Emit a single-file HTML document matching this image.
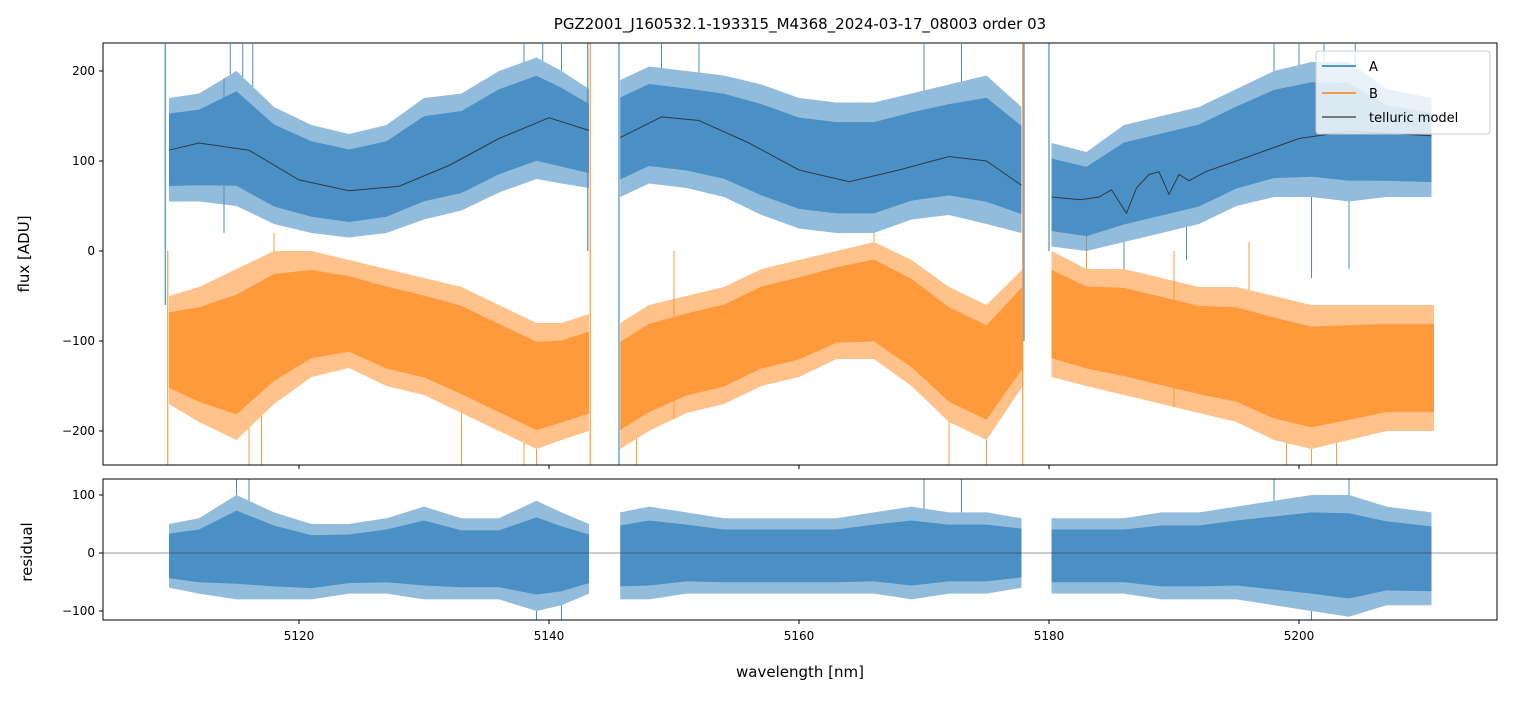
<!DOCTYPE html>
<html><head><meta charset="utf-8"><style>
body{margin:0;background:#fff;}
svg text{font-family:"DejaVu Sans","Liberation Sans",sans-serif;fill:#000;}
</style></head><body>
<svg id="chart" width="1513" height="696" xmlns="http://www.w3.org/2000/svg">
<text x="800" y="29" font-size="15" text-anchor="middle">PGZ2001_J160532.1-193315_M4368_2024-03-17_08003  order 03</text>
<g id="topPanel"></g>
<g id="botPanel"></g>
<text x="800" y="677" font-size="15" text-anchor="middle">wavelength [nm]</text>
<text transform="translate(29,254) rotate(-90)" font-size="15" text-anchor="middle">flux [ADU]</text>
<text transform="translate(32,552) rotate(-90)" font-size="15" text-anchor="middle">residual</text>
</svg>
<script>
const xTicks=[5120,5140,5160,5180,5200];
const fluxTicks=[200,100,0,-100,-200];
const resTicks=[100,0,-100];
const aWl=[[5109.6,5112,5115,5118,5121,5124,5127,5130,5133,5136,5139,5141,5143.2],[5145.7,5148,5151,5154,5157,5160,5163,5166,5169,5172,5175,5177.8],[5180.2,5183,5186,5189,5192,5195,5198,5201,5204,5207,5210.6]];
const aUp=[[170,175,200,160,140,130,140,170,175,200,215,200,180],[190,205,200,195,185,170,165,165,175,185,195,160],[120,110,140,150,160,180,200,210,210,180,170]];
const aLo=[[55,55,50,30,20,15,20,35,45,65,80,75,70],[60,75,70,60,40,25,20,20,35,40,30,20],[5,0,10,20,30,50,60,60,55,60,60]];
const bWl=[[5109.6,5112,5115,5118,5121,5124,5127,5130,5133,5136,5139,5141,5143.2],[5145.7,5148,5151,5154,5157,5160,5163,5166,5169,5172,5175,5177.9],[5180.2,5183,5186,5189,5192,5195,5198,5201,5204,5207,5210.8]];
const bUp=[[-50,-40,-20,0,0,-10,-20,-30,-40,-60,-80,-80,-70],[-80,-60,-50,-40,-20,-10,0,10,-10,-40,-60,-20],[0,-20,-20,-30,-40,-40,-50,-60,-60,-60,-60]];
const bLo=[[-170,-190,-210,-170,-140,-130,-150,-160,-180,-200,-220,-210,-200],[-220,-200,-180,-170,-150,-140,-120,-120,-150,-190,-210,-150],[-140,-150,-160,-170,-180,-190,-210,-220,-210,-200,-200]];
const mWl=[[5109.6,5112,5116,5120,5124,5128,5132,5136,5140,5143.2],[5145.7,5149,5152,5156,5160,5164,5168,5172,5175,5177.8],[5180.2,5182.5,5184,5185,5185.6,5186.2,5187,5188,5188.8,5189.6,5190.4,5191.2,5192.5,5196,5200,5204,5210.6]];
const mVal=[[112,120,112,79,67,72,95,125,148,134],[126,149,145,120,90,77,90,105,100,73],[60,57,60,68,55,42,70,85,88,63,85,78,88,105,125,133,128]];
const rWl=aWl;
const rUp=[[50,60,100,70,50,50,60,80,60,60,90,70,50],[70,80,70,60,60,60,60,70,80,70,70,60],[60,60,60,70,70,80,90,100,100,80,70]];
const rLo=[[-60,-70,-80,-80,-80,-70,-70,-80,-80,-80,-100,-90,-70],[-80,-80,-70,-70,-70,-70,-70,-70,-80,-70,-70,-60],[-70,-70,-70,-80,-80,-80,-90,-100,-110,-90,-90]];
// isolated spikes: wavelength, tip value
const aSpikeWl=[5114.5,5115.5,5116.3,5138,5139.5,5141,5149,5152,5170,5173,5198,5200,5202,5204.5,5114,5186,5191,5201,5204];
const aSpikeVal=[230,230,230,230,230,230,230,230,230,230,230,230,230,230,20,-20,-10,-30,-20];
const bSpikeWl=[5116,5117,5133,5138,5139,5147,5172,5175,5199,5201,5203,5118,5150,5166,5183,5190,5196];
const bSpikeVal=[-240,-240,-240,-240,-240,-240,-240,-240,-240,-240,-240,20,0,20,20,0,10];
const rSpikeWl=[5115,5116,5139,5141,5170,5173,5198,5201,5204];
const rSpikeVal=[130,130,-120,-120,130,130,130,-120,130];

const X0=5104.32,X1=5215.84,PL=103,PR=1497;
const xs=v=>PL+(v-X0)/(X1-X0)*(PR-PL);
const ysT=v=>251-v*0.9;
const ysB=v=>553-v*0.58;
const NS="http://www.w3.org/2000/svg";
function mk(p,tag,at){const e=document.createElementNS(NS,tag);for(const k in at)e.setAttribute(k,at[k]);p.appendChild(e);return e;}
const svgEl=document.getElementById('chart');
const defs=mk(svgEl,'defs',{});
const c1=mk(defs,'clipPath',{id:'ct'});mk(c1,'rect',{x:103,y:43,width:1394,height:422});
const c2=mk(defs,'clipPath',{id:'cb'});mk(c2,'rect',{x:103,y:479,width:1394,height:141});
const topG=document.getElementById('topPanel'),botG=document.getElementById('botPanel');
const tg=mk(topG,'g',{'clip-path':'url(#ct)'});
const bg=mk(botG,'g',{'clip-path':'url(#cb)'});
function band(g,wl,up,lo,ys,col,name){
  for(let s=0;s<wl.length;s++){
    let pts=[],pts2=[];
    for(let i=0;i<wl[s].length;i++){pts.push(xs(wl[s][i])+','+ys(up[s][i]));const m=(up[s][i]+lo[s][i])/2;pts2.push(xs(wl[s][i])+','+ys(m+(up[s][i]-m)*0.7));}
    for(let i=wl[s].length-1;i>=0;i--){pts.push(xs(wl[s][i])+','+ys(lo[s][i]));const m=(up[s][i]+lo[s][i])/2;pts2.push(xs(wl[s][i])+','+ys(m+(lo[s][i]-m)*0.7));}
    const e=mk(g,'polygon',{points:pts.join(' '),fill:col,'fill-opacity':0.6});
    
    
    const f=mk(g,'polygon',{points:pts2.join(' '),fill:col});
    
    
  }
}
function edgeAt(wl,arr,w){
  for(let s=0;s<wl.length;s++){const a=wl[s];if(w>=a[0]&&w<=a[a.length-1]){for(let i=0;i<a.length-1;i++){if(w<=a[i+1]){const t=(w-a[i])/(a[i+1]-a[i]);return arr[s][i]+(arr[s][i+1]-arr[s][i])*t;}}}}
  return 0;
}
function spikes(g,wl,up,lo,sw,sv,ys,col,name){
  sw.forEach((w,i)=>{
    const v=sv[i];const base=v>0?edgeAt(wl,up,w):edgeAt(wl,lo,w);
    const e=mk(g,'line',{x1:xs(w),x2:xs(w),y1:ys(base),y2:ys(v),stroke:col,'stroke-width':1});
    
    
  });
}
band(tg,bWl,bUp,bLo,ysT,'#ff9a3c','series-b');
spikes(tg,bWl,bUp,bLo,bSpikeWl,bSpikeVal,ysT,'#ff9a3c','series-b-spike');
band(tg,aWl,aUp,aLo,ysT,'#4a90c4','series-a');
spikes(tg,aWl,aUp,aLo,aSpikeWl,aSpikeVal,ysT,'#4a90c4','series-a-spike');
[[5109.3,230,-60,'#4a90c4'],[5143.3,240,-240,'#ff9a3c'],[5143.1,240,0,'#4a90c4'],[5145.6,240,-240,'#4a90c4'],[5177.9,240,-240,'#ff9a3c'],[5178.0,230,-100,'#4a90c4'],[5180.0,240,0,'#4a90c4'],[5109.5,0,-240,'#ff9a3c']].forEach(d=>{
  const e=mk(tg,'line',{x1:xs(d[0]),x2:xs(d[0]),y1:ysT(d[1]),y2:ysT(d[2]),stroke:d[3],'stroke-width':1.2});
  
  
});
for(let s=0;s<mWl.length;s++){
  const e=mk(tg,'polyline',{points:mWl[s].map((w,i)=>xs(w)+','+ysT(mVal[s][i])).join(' '),fill:'none',stroke:'#2b3a48','stroke-width':1});
  
  
}
band(bg,rWl,rUp,rLo,ysB,'#4a90c4','residual');
spikes(bg,rWl,rUp,rLo,rSpikeWl,rSpikeVal,ysB,'#4a90c4','residual-spike');
const zl=mk(bg,'line',{x1:103,x2:1497,y1:ysB(0),y2:ysB(0),stroke:'#333','stroke-width':0.6});

const ft=mk(topG,'rect',{x:103,y:43,width:1394,height:422,fill:'none',stroke:'#000','stroke-width':1});

const fb=mk(botG,'rect',{x:103,y:479,width:1394,height:141,fill:'none',stroke:'#000','stroke-width':1});

xTicks.forEach(v=>{
  mk(topG,'line',{x1:xs(v),x2:xs(v),y1:465,y2:469,stroke:'#000'});
  mk(botG,'line',{x1:xs(v),x2:xs(v),y1:620,y2:624,stroke:'#000'});
  const t=mk(botG,'text',{x:xs(v),y:640,'font-size':12,'text-anchor':'middle'});t.textContent=v;
  
});
fluxTicks.forEach(v=>{
  mk(topG,'line',{x1:99,x2:103,y1:ysT(v),y2:ysT(v),stroke:'#000'});
  const t=mk(topG,'text',{x:95,y:ysT(v)+4,'font-size':12,'text-anchor':'end'});t.textContent=v<0?'\u2212'+(-v):v;
  
});
resTicks.forEach(v=>{
  mk(botG,'line',{x1:99,x2:103,y1:ysB(v),y2:ysB(v),stroke:'#000'});
  const t=mk(botG,'text',{x:95,y:ysB(v)+4,'font-size':12,'text-anchor':'end'});t.textContent=v<0?'\u2212'+(-v):v;
  
});
const lg=mk(svgEl,'g',{});


mk(lg,'rect',{x:1316,y:51,width:174,height:83,rx:3,fill:'rgba(255,255,255,0.8)',stroke:'#ccc'});
[['A','#1f77b4',71],['B','#ff7f0e',98],['telluric model','#555',122]].forEach(d=>{
  mk(lg,'line',{x1:1322,x2:1356,y1:d[2]-5,y2:d[2]-5,stroke:d[1],'stroke-width':1.5});
  const t=mk(lg,'text',{x:1369,y:d[2],'font-size':13});t.textContent=d[0];
  
  
});
</script>
</body></html>
